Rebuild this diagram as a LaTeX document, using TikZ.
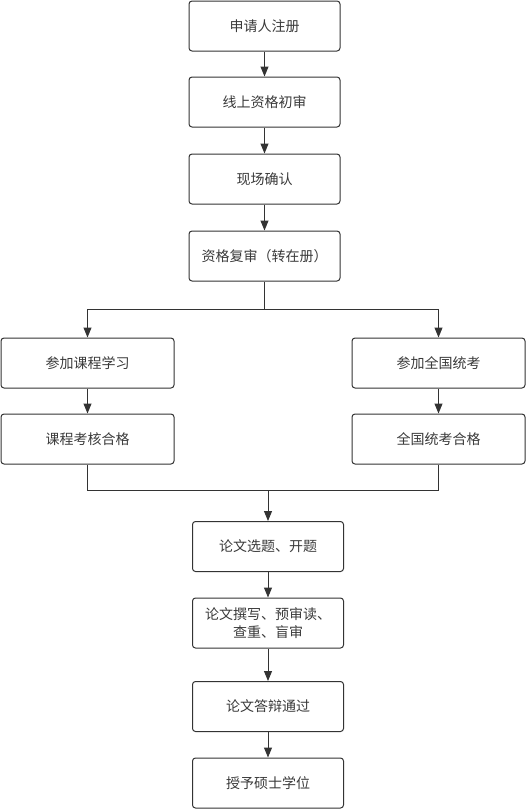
\documentclass[tikz,border=0pt]{standalone}
\usepackage{fontspec}
\setmainfont{Noto Sans CJK SC}
\usepackage{tikz}
\usetikzlibrary{arrows.meta}
\definecolor{linegray}{HTML}{333333}
\definecolor{textgray}{HTML}{3A3A3A}

\begin{document}
\begin{tikzpicture}[x=1pt,y=-1pt,
  stepbox/.style={draw=linegray, line width=1pt, rounded corners=3pt, fill=white,
    minimum width=151pt, minimum height=50pt, inner sep=2pt, align=center,
    text=textgray, font=\fontsize{14}{18}\selectfont},
  widebox/.style={stepbox, minimum width=173pt},
  flow/.style={draw=linegray, line width=1pt, -{Triangle[length=10pt,width=8pt]}},
  mergeline/.style={draw=linegray, line width=1pt}]
\useasboundingbox (0,0) rectangle (527,809);

\node[stepbox] (zhuce) at (264.5,26) {申请人注册};
\node[stepbox] (chushen) at (264.5,102) {线上资格初审};
\node[stepbox] (queren) at (264.5,179) {现场确认};
\node[stepbox] (fushen) at (264.5,256) {资格复审（转在册）};

\node[widebox] (kecheng) at (87.5,363) {参加课程学习};
\node[widebox] (tongkao) at (438.5,363) {参加全国统考};
\node[widebox] (kehe) at (87.5,439) {课程考核合格};
\node[widebox] (tonghe) at (438.5,439) {全国统考合格};

\node[stepbox] (kaiti) at (268,546.5) {论文选题、开题};
\node[stepbox] (zhuanxie) at (268,623) {论文撰写、预审读、\\查重、盲审};
\node[stepbox] (dabian) at (268,706.5) {论文答辩通过};
\node[stepbox] (shouyu) at (268,783) {授予硕士学位};

\coordinate (fen) at (264.5,309);
\coordinate (he) at (268,490);

\draw[flow] (zhuce) -- (chushen);
\draw[flow] (chushen) -- (queren);
\draw[flow] (queren) -- (fushen);
\draw[mergeline] (fushen) -- (fen);
\draw[flow] (fen) -| (kecheng);
\draw[flow] (fen) -| (tongkao);
\draw[flow] (kecheng) -- (kehe);
\draw[flow] (tongkao) -- (tonghe);
\draw[mergeline] (kehe) |- (he);
\draw[mergeline] (tonghe) |- (he);
\draw[flow] (he) -- (kaiti);
\draw[flow] (kaiti) -- (zhuanxie);
\draw[flow] (zhuanxie) -- (dabian);
\draw[flow] (dabian) -- (shouyu);
\end{tikzpicture}
\end{document}
